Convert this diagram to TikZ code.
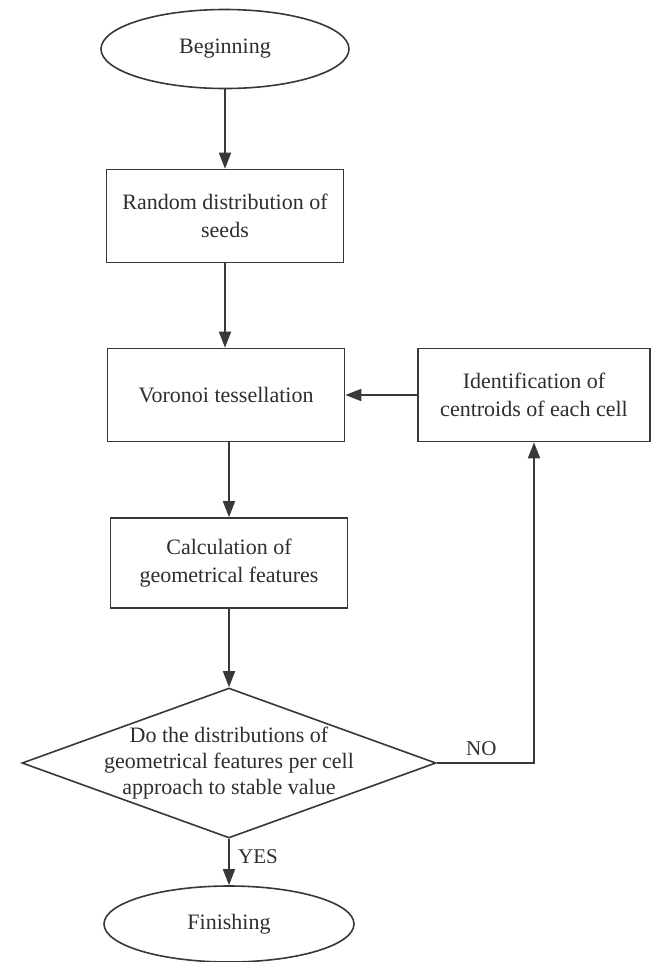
\documentclass[tikz,border=0pt]{standalone}
\usepackage{fontspec}
\setmainfont{Liberation Serif}
\usetikzlibrary{arrows.meta,shapes.geometric}
\begin{document}
\begin{tikzpicture}[x=1pt,y=-1pt,
  edge/.style={draw=black!78, line width=1.6pt},
  arr/.style={edge, -{Triangle[length=16pt,width=12pt]}},
  txt/.style={text=black!82, font=\fontsize{22}{28}\selectfont, align=center, inner sep=0pt},
  procbox/.style={txt, rectangle, edge, minimum width=237pt, minimum height=93pt},
  term/.style={txt, ellipse, edge, minimum width=248pt, minimum height=79pt},
  decbox/.style={diamond, edge, minimum width=414pt, minimum height=150pt, inner sep=0pt},
  lbl/.style={text=black!82, font=\fontsize{21}{24}\selectfont, inner sep=0pt}
]
\useasboundingbox[fill=white] (0,0) rectangle (653,962);

\node[term] (beg) at (225,49) {Beginning};
\node[procbox] (rand) at (225,216) {Random distribution of\\seeds};
\node[procbox] (vor) at (226,395) {Voronoi tessellation};
\node[procbox, minimum width=232pt] (ident) at (534,395) {Identification of\\centroids of each cell};
\node[procbox, minimum height=90pt] (calc) at (229,563) {Calculation of\\geometrical features};
\node[decbox] (dec) at (229,763) {};
\node[txt, font=\fontsize{22}{26}\selectfont] (dectext) at (dec.center) {Do the distributions of\\geometrical features per cell\\approach to stable value};
\node[term, minimum width=250pt, minimum height=76pt] (fin) at (229,924) {Finishing};

\draw[arr] (beg.south) -- (rand.north -| beg.south);
\draw[arr] (rand.south -| beg.south) -- (vor.north -| beg.south);
\draw[arr] (vor.south -| calc.north) -- (calc.north);
\draw[arr] (calc.south) -- (dec.north);
\draw[arr] (dec.south) -- (fin.north);
\draw[arr] (ident.west) -- (vor.east);
\draw[arr] (dec.east) -- (ident.south |- dec.east) -- (ident.south);

\node[lbl, anchor=west] (yes) at (238,857) {YES};
\node[lbl, anchor=south west] (no) at (466,756) {NO};
\end{tikzpicture}
\end{document}
